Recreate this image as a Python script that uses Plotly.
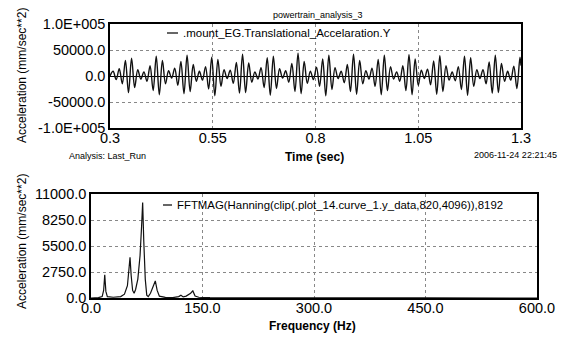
import plotly.graph_objects as go

# ---------------- data ----------------
t_top = [0.3000, 0.3075, 0.3150, 0.3225, 0.3300, 0.3375, 0.3450, 0.3525, 0.3600, 0.3675,
         0.3750, 0.3825, 0.3900, 0.3975, 0.4050, 0.4125, 0.4200, 0.4275, 0.4350, 0.4425,
         0.4500, 0.4575, 0.4650, 0.4725, 0.4800, 0.4875, 0.4950, 0.5025, 0.5100, 0.5175,
         0.5250, 0.5325, 0.5400, 0.5475, 0.5550, 0.5625, 0.5700, 0.5775, 0.5850, 0.5925,
         0.6000, 0.6075, 0.6150, 0.6225, 0.6300, 0.6375, 0.6450, 0.6525, 0.6600, 0.6675,
         0.6750, 0.6825, 0.6900, 0.6975, 0.7050, 0.7125, 0.7200, 0.7275, 0.7350, 0.7425,
         0.7500, 0.7575, 0.7650, 0.7725, 0.7800, 0.7875, 0.7950, 0.8025, 0.8100, 0.8175,
         0.8250, 0.8325, 0.8400, 0.8475, 0.8550, 0.8625, 0.8700, 0.8775, 0.8850, 0.8925,
         0.9000, 0.9075, 0.9150, 0.9225, 0.9300, 0.9375, 0.9450, 0.9525, 0.9600, 0.9675,
         0.9750, 0.9825, 0.9900, 0.9975, 1.0050, 1.0125, 1.0200, 1.0275, 1.0350, 1.0425,
         1.0500, 1.0575, 1.0650, 1.0725, 1.0800, 1.0875, 1.0950, 1.1025, 1.1100, 1.1175,
         1.1250, 1.1325, 1.1400, 1.1475, 1.1550, 1.1625, 1.1700, 1.1775, 1.1850, 1.1925,
         1.2000, 1.2075, 1.2150, 1.2225, 1.2300, 1.2375, 1.2450, 1.2525, 1.2600, 1.2675,
         1.2750, 1.2825, 1.2900, 1.2975, 1.3000]

acc_top = [0, 9000, -7000, 14000, -15000, 30000, -32000, 34000, -22000, 12000,
           -6000, 8000, -10000, 20000, -28000, 38000, -36000, 30000, -15000, 10000,
           -4000, 15000, -18000, 28000, -34000, 40000, -30000, 22000, -10000, 9000,
           -8000, 18000, -25000, 36000, -38000, 32000, -20000, 12000, -5000, 11000,
           -14000, 26000, -33000, 42000, -32000, 25000, -12000, 8000, -6000, 16000,
           -22000, 35000, -37000, 38000, -24000, 14000, -4000, 10000, -12000, 24000,
           -30000, 44000, -34000, 28000, -14000, 9000, -7000, 17000, -20000, 33000,
           -38000, 40000, -26000, 16000, -5000, 9000, -13000, 22000, -30000, 42000,
           -35000, 30000, -15000, 10000, -6000, 15000, -20000, 32000, -36000, 40000,
           -28000, 18000, -6000, 8000, -10000, 20000, -28000, 41000, -36000, 33000,
           -18000, 11000, -5000, 13000, -17000, 29000, -35000, 39000, -30000, 20000,
           -8000, 8000, -9000, 18000, -26000, 38000, -37000, 35000, -20000, 12000,
           -5000, 12000, -15000, 27000, -33000, 40000, -32000, 24000, -10000, 9000,
           -8000, 19000, -24000, 36000, 20000]

freq = [0, 5, 10, 15, 17, 18.5, 20, 22, 30, 40, 45, 49, 51, 52.5, 54, 56, 58, 60, 63, 66,
        68, 69.5, 71, 73, 75, 77, 80, 84, 86.5, 89, 92, 100, 110, 118, 121, 124, 128,
        134, 137, 140, 145, 160, 200, 300, 450, 600]
fftmag = [0, 20, 40, 150, 800, 2450, 700, 150, 80, 150, 400, 1300, 2700, 4300, 2400, 800,
          500, 900, 2000, 4500, 7500, 10100, 6000, 2000, 300, 150, 500, 1300, 1800, 800,
          200, 60, 40, 150, 300, 120, 200, 500, 750, 200, 80, 30, 10, 5, 3, 0]

top_xticks = [0.3, 0.55, 0.8, 1.05, 1.3]
top_xtext = ["0.3", "0.55", "0.8", "1.05", "1.3"]
top_yticks = [100000, 50000, 0, -50000, -100000]
top_ytext = ["1.0E+005", "50000.0", "0.0", "-50000.0", "-1.0E+005"]
bot_xticks = [0, 150, 300, 450, 600]
bot_xtext = ["0.0", "150.0", "300.0", "450.0", "600.0"]
bot_yticks = [0, 2750, 5500, 8250, 11000]
bot_ytext = ["0.0", "2750.0", "5500.0", "8250.0", "11000.0"]

W, H = 573, 337
FONT = "Liberation Sans, Arial, sans-serif"

def px(x):
    return x / W

def py(y):
    return 1 - y / H

fig = go.Figure()
fig.add_trace(go.Scatter(x=t_top, y=acc_top, mode="lines",
                         line=dict(color="#111", width=1.4, shape="spline", smoothing=1.0),
                         xaxis="x", yaxis="y", showlegend=False))
fig.add_trace(go.Scatter(x=freq, y=fftmag, mode="lines",
                         line=dict(color="#111", width=1.2),
                         xaxis="x2", yaxis="y2", showlegend=False))

axis_common = dict(showline=True, mirror=True, linecolor="black", linewidth=1.5,
                   showgrid=True, gridcolor="#888", griddash="dot", gridwidth=1,
                   ticks="", ticklen=0, tickfont=dict(family=FONT, size=14.5, color="black"),
                   automargin=False, fixedrange=True)

fig.update_layout(
    width=W, height=H,
    margin=dict(l=0, r=0, t=0, b=0),
    paper_bgcolor="white", plot_bgcolor="white",
    showlegend=False,
    xaxis=dict(domain=[px(110), px(521)], range=[0.3, 1.3], anchor="y",
               tickvals=top_xticks, ticktext=top_xtext, zeroline=False,
               ticklabelstandoff=-4, **axis_common),
    yaxis=dict(domain=[py(128), py(24)], range=[-100000, 100000], anchor="x",
               tickvals=top_yticks, ticktext=top_ytext,
               zeroline=True, zerolinecolor="black", zerolinewidth=1.2,
               **axis_common),
    xaxis2=dict(domain=[px(91), px(537)], range=[0, 600], anchor="y2",
                tickvals=bot_xticks, ticktext=bot_xtext, zeroline=False,
                ticklabelstandoff=-4, **axis_common),
    yaxis2=dict(domain=[py(298), py(194)], range=[0, 11000], anchor="x2",
                tickvals=bot_yticks, ticktext=bot_ytext, zeroline=False,
                **axis_common),
)

def ann(text, x, y, size, bold=False, xanchor="center", textangle=0):
    fig.add_annotation(text=("<b>%s</b>" % text) if bold else text,
                       x=px(x), y=py(y), xref="paper", yref="paper",
                       xanchor=xanchor, yanchor="middle", showarrow=False,
                       textangle=textangle,
                       font=dict(family=FONT, size=size, color="black"))

ann("powertrain_analysis_3", 318, 15, 9)
ann("Acceleration (mm/sec**2)", 22, 76, 12, textangle=-90)
ann("Time (sec)", 314, 157, 12, bold=True)
ann("Analysis: Last_Run", 67, 156, 9, xanchor="left")
ann("2006-11-24 22:21:45", 559, 155, 9, xanchor="right")
ann("Acceleration (mm/sec**2)", 22, 242, 12, textangle=-90)
ann("Frequency (Hz)", 312, 326, 12, bold=True)

# legend entries
fig.add_shape(type="line", xref="paper", yref="paper", x0=px(167), x1=px(178),
              y0=py(33), y1=py(33), line=dict(color="black", width=1.2))
ann(".mount_EG.Translational_Accelaration.Y", 181, 33, 11.5, xanchor="left")
fig.add_shape(type="line", xref="paper", yref="paper", x0=px(163), x1=px(172),
              y0=py(205), y1=py(205), line=dict(color="black", width=1.2))
ann("FFTMAG(Hanning(clip(.plot_14.curve_1.y_data,820,4096)),8192", 175, 205, 11.4,
    xanchor="left")

fig.write_html("out.html",
               config={"displayModeBar": False},
               post_script="document.body.style.margin='0';document.body.style.padding='0';")
